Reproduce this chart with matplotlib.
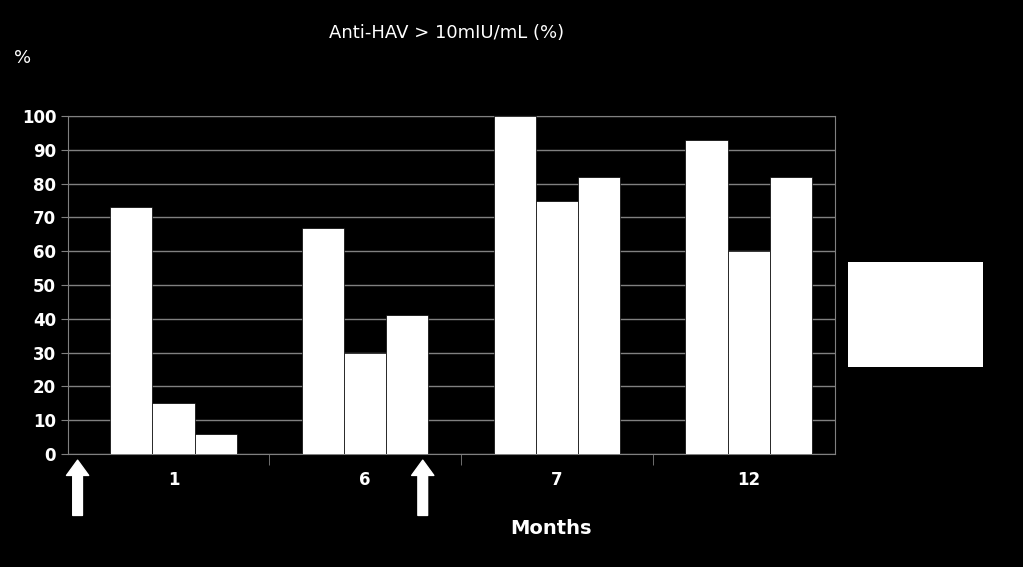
import matplotlib.pyplot as plt
import numpy as np
from matplotlib.patches import Rectangle

months = ['1', '6', '7', '12']
series_a = [73, 67, 100, 93]
series_b = [15, 30, 75, 60]
series_c = [6, 41, 82, 82]

fig = plt.figure(figsize=(10.23, 5.67), dpi=100, facecolor='black')
ax = fig.add_axes([68/1023, 1-454/567, 767/1023, 338/567])
ax.set_facecolor('black')

x = np.arange(len(months))
w = 0.22
for i, vals in enumerate([series_a, series_b, series_c]):
    ax.bar(x + (i - 1) * w, vals, width=w, color='white', edgecolor='black', linewidth=0.5, zorder=3)

ax.set_xlim(-0.55, 3.45)
ax.set_ylim(0, 100)
ax.set_yticks(range(0, 101, 10))
ax.yaxis.grid(True, color='#808080', linewidth=1, zorder=0)
ax.set_xticks(x)
ax.set_xticklabels(months)
ax.set_xticks(x[:-1] + 0.5, minor=True)
ax.tick_params(axis='x', which='major', length=0, pad=12)
ax.tick_params(axis='x', which='minor', length=8, color='#808080')
ax.tick_params(axis='y', length=5, color='#808080')
for lab in ax.get_xticklabels() + ax.get_yticklabels():
    lab.set_color('white')
    lab.set_fontweight('bold')
    lab.set_fontsize(12)
for s in ax.spines.values():
    s.set_color('#808080')

# arrows marking vaccination doses
for xa in [-0.5, 1.3]:
    ax.annotate('', xy=(xa, -1), xytext=(xa, -19), xycoords='data',
                arrowprops=dict(arrowstyle='simple,head_width=1.6,head_length=1.1,tail_width=0.7',
                                color='white'), annotation_clip=False)

fig.text(447/1023, 1-33/567, 'Anti-HAV > 10mIU/mL (%)', color='white', fontsize=13,
         ha='center', va='center')
fig.text(23/1023, 1-58/567, '%', color='white', fontsize=13, ha='center', va='center')
fig.text(551/1023, 1-528/567, 'Months', color='white', fontsize=14, fontweight='bold',
         ha='center', va='center')

fig.patches.append(Rectangle((848/1023, 1-367/567), 135/1023, 105/567,
                             transform=fig.transFigure, facecolor='white', edgecolor='none'))

fig.savefig('out.png', dpi=100, facecolor='black')
